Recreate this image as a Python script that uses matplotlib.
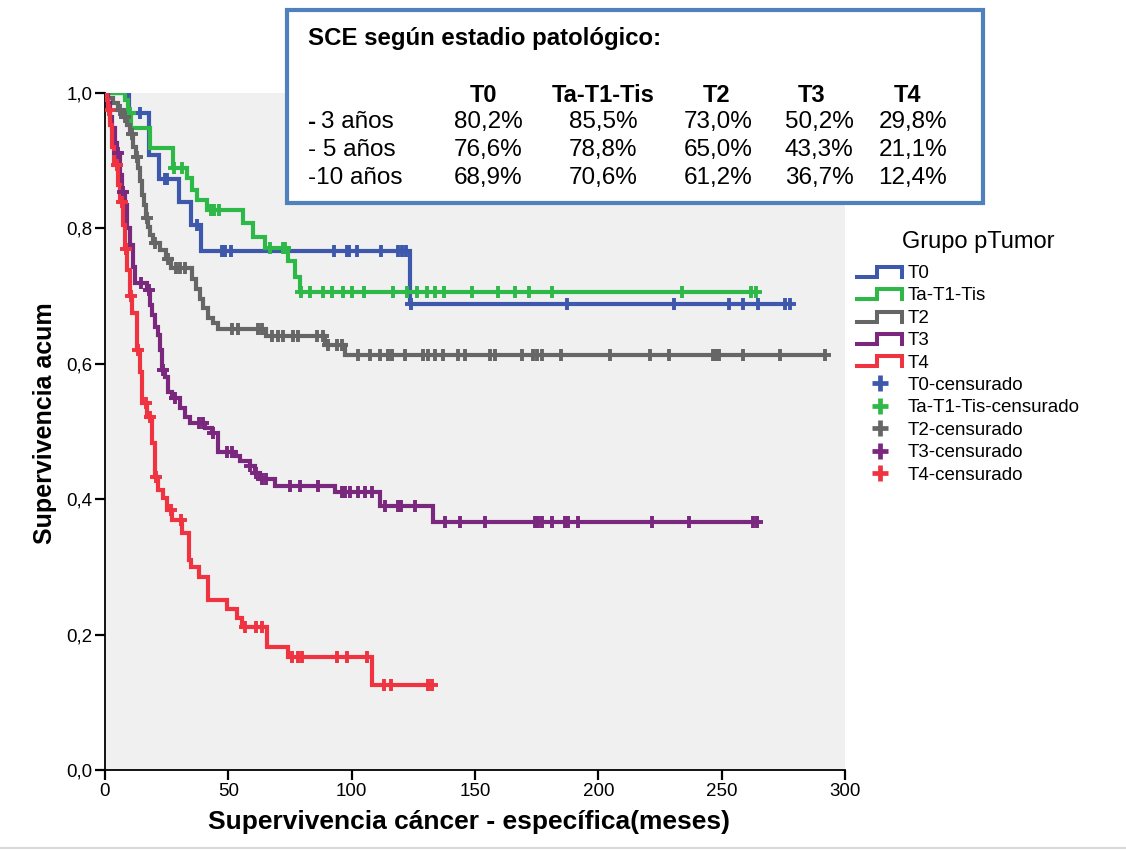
import numpy as np
import matplotlib
matplotlib.use("Agg")
import matplotlib.pyplot as plt
from matplotlib.lines import Line2D
from matplotlib.patches import Rectangle
from matplotlib.legend_handler import HandlerBase

plt.rcParams['font.family'] = ['Liberation Sans', 'DejaVu Sans']

# ---------------- data ----------------
groups = ["T0", "Ta-T1-Tis", "T2", "T3", "T4"]
colors = ["#3e58ac", "#2eb848", "#666666", "#79287d", "#ef3340"]

T0_times = [9.7, 17.8, 21.9, 30.0, 34.9, 38.9, 123.5]
T0_surv = [0.970, 0.908, 0.873, 0.839, 0.805, 0.767, 0.689]
T0_cens = [14.2, 24.3, 25.1, 37.3, 47.4, 48.6, 51.1, 92.8, 98.1, 98.9, 102.2, 111.9,
           118.8, 120.4, 122.0, 124.1, 187.4, 230.7, 253.0, 258.6, 264.7, 275.7, 277.5]

G_times = [8.1, 9.5, 10.5, 18.2, 27.6, 33.2, 35.3, 37.3, 41.4, 56.0, 60.0, 64.9, 74.2, 77.0, 79.0]
G_surv = [0.990, 0.970, 0.948, 0.919, 0.889, 0.875, 0.857, 0.842, 0.827, 0.808, 0.787,
          0.771, 0.752, 0.728, 0.706]
G_cens = [10.1, 28.0, 31.2, 43.0, 44.2, 46.2, 66.9, 72.2, 73.0, 79.5, 83.1, 88.4, 92.0,
          96.5, 100.1, 105.0, 116.8, 122.4, 126.5, 130.5, 133.8, 137.4, 148.8, 159.3,
          166.2, 171.9, 181.2, 233.9, 261.9, 263.9]

S_times = [0.8, 3.2, 5.3, 7.3, 8.9, 10.1, 11.4, 12.6, 13.4, 14.2, 15.0, 15.8, 16.6, 17.4,
           18.2, 19.5, 22.3, 24.7, 26.8, 35.3, 36.9, 38.5, 39.7, 41.8, 43.8, 45.8, 65.3,
           89.2, 97.3]
S_surv = [0.993, 0.985, 0.975, 0.964, 0.953, 0.940, 0.920, 0.905, 0.889, 0.870, 0.850,
          0.835, 0.815, 0.802, 0.790, 0.778, 0.768, 0.755, 0.741, 0.725, 0.710, 0.695,
          0.682, 0.668, 0.660, 0.652, 0.641, 0.628, 0.613]
S_cens = [6.1, 8.1, 10.9, 13.0, 17.0, 20.3, 25.5, 28.8, 30.4, 32.4, 51.5, 53.9, 62.0, 63.6,
          67.7, 70.1, 72.2, 76.2, 78.2, 85.9, 88.4, 90.4, 94.1, 96.1, 102.6, 107.4, 111.5,
          114.7, 116.4, 121.6, 128.9, 130.9, 133.8, 137.0, 143.1, 146.0, 156.1, 158.1,
          169.0, 173.5, 175.1, 177.2, 184.9, 204.7, 220.9, 228.6, 246.5, 247.7, 248.9,
          258.6, 273.6, 292.0]

P_times = [1.2, 2.0, 2.8, 4.1, 4.9, 6.1, 6.9, 8.1, 8.9, 10.1, 11.4, 12.2, 17.0, 18.2, 19.1,
           20.3, 21.5, 22.3, 23.1, 24.3, 25.5, 27.2, 30.4, 32.4, 34.5, 40.5, 43.4, 45.8,
           52.7, 54.7, 58.8, 60.8, 62.8, 68.9, 93.2, 111.5, 133.0]
P_surv = [0.985, 0.965, 0.948, 0.926, 0.911, 0.879, 0.854, 0.835, 0.800, 0.775, 0.743,
          0.720, 0.709, 0.687, 0.672, 0.654, 0.643, 0.620, 0.591, 0.580, 0.558, 0.550,
          0.535, 0.522, 0.513, 0.505, 0.498, 0.470, 0.464, 0.456, 0.449, 0.438, 0.430,
          0.420, 0.410, 0.390, 0.367]
P_cens = [5.3, 7.3, 14.6, 17.8, 23.5, 28.4, 38.1, 39.7, 43.8, 49.5, 51.5, 58.8, 61.2, 63.6,
          65.3, 75.0, 79.0, 86.4, 96.1, 97.3, 99.3, 102.6, 105.4, 108.2, 113.5, 118.8,
          120.0, 125.7, 137.8, 143.9, 154.1, 174.3, 175.5, 177.2, 181.2, 186.5, 187.7,
          191.8, 221.8, 236.8, 262.7, 264.3]

R_times = [0.8, 1.2, 2.0, 2.8, 3.6, 5.3, 6.1, 7.3, 8.1, 8.9, 10.1, 10.9, 13.0, 14.2, 15.0,
           17.0, 19.1, 20.3, 21.5, 23.5, 25.1, 27.2, 31.2, 34.1, 34.9, 38.1, 41.8, 49.5,
           53.5, 55.5, 65.7, 74.2, 108.2]
R_surv = [0.990, 0.975, 0.953, 0.920, 0.894, 0.864, 0.839, 0.805, 0.770, 0.739, 0.700,
          0.675, 0.620, 0.588, 0.542, 0.522, 0.483, 0.433, 0.413, 0.402, 0.384, 0.369,
          0.350, 0.310, 0.300, 0.285, 0.251, 0.238, 0.225, 0.211, 0.182, 0.167, 0.125]
R_cens = [1.6, 4.9, 6.9, 8.5, 10.5, 13.4, 16.6, 18.2, 20.7, 26.8, 30.8, 56.8, 61.2, 63.6,
          75.8, 78.2, 79.9, 94.1, 98.1, 106.2, 113.1, 115.9, 130.9, 132.6]

table_title = "SCE según estadio patológico:"
row_labels = ["3 años", "5 años", "10 años"]
table_values = [[80.2, 85.5, 73.0, 50.2, 29.8],
                [76.6, 78.8, 65.0, 43.3, 21.1],
                [68.9, 70.6, 61.2, 36.7, 12.4]]

x_ticks = [0, 50, 100, 150, 200, 250, 300]
y_ticks = [0.0, 0.2, 0.4, 0.6, 0.8, 1.0]

series = [(T0_times, T0_surv, T0_cens), (G_times, G_surv, G_cens),
          (S_times, S_surv, S_cens), (P_times, P_surv, P_cens),
          (R_times, R_surv, R_cens)]

# ---------------- figure ----------------
W, H = 1126, 850
fig = plt.figure(figsize=(W / 100, H / 100), dpi=100)
fig.patch.set_facecolor("white")


def fx(x):
    return x / W


def fy(y):
    return 1 - y / H


ax = fig.add_axes([fx(105), fy(770), fx(845) - fx(105), fy(93) - fy(770)])
ax.set_facecolor("#f0f0f0")
for s in ["top", "right"]:
    ax.spines[s].set_visible(False)
for s in ["left", "bottom"]:
    ax.spines[s].set_linewidth(1.3)
    ax.spines[s].set_color("black")

for (t, sv, cens), col in zip(series, colors):
    end = max(cens)
    xs = [0.0] + list(t) + [end]
    ys = [1.0] + list(sv) + [sv[-1]]
    ax.step(xs, ys, where="post", color=col, lw=3.0, solid_joinstyle="miter", zorder=3)
    tarr = np.array(t)
    sarr = np.array([1.0] + list(sv))
    idx = np.searchsorted(tarr, np.array(cens), side="right")
    ax.plot(cens, sarr[idx], ls="none", marker="+", ms=8.5, mew=2.8, color=col, zorder=4)

ax.set_xlim(0, 300)
ax.set_ylim(0, 1)
ax.set_xticks(x_ticks)
ax.set_xticklabels([str(v) for v in x_ticks])
ax.set_yticks(y_ticks)
ax.set_yticklabels([f"{v:.1f}".replace(".", ",") for v in y_ticks])
ax.tick_params(axis="both", direction="out", length=7, width=1.6, labelsize=13.5,
               color="black", pad=2)

ax.set_xlabel("Supervivencia cáncer - específica(meses)", fontsize=19, fontweight="bold",
              va="center")
ax.xaxis.set_label_coords((469 - 105) / 740, (770 - 822) / 677)
ax.set_ylabel("Supervivencia acum", fontsize=18, fontweight="bold", va="center")
ax.yaxis.set_label_coords((45 - 105) / 740, (770 - 423) / 677)


# ---------------- legend ----------------
class StepHandler(HandlerBase):
    def create_artists(self, legend, orig_handle, xdescent, ydescent, width, height,
                       fontsize, trans):
        x0 = -xdescent
        y0 = -ydescent
        xm = x0 + width * 0.45
        x1 = x0 + width
        lo = y0 + height * 0.1
        hi = y0 + height * 0.85
        ln = Line2D([x0, xm, xm, x1, x1], [lo, lo, hi, hi, lo],
                    color=orig_handle.get_color(), lw=2.9, solid_joinstyle="miter")
        ln.set_transform(trans)
        return [ln]


step_handles = [Line2D([], [], color=c) for c in colors]
cens_handles = [Line2D([], [], ls="none", marker="+", ms=12, mew=3.4, color=c) for c in colors]
handles = step_handles + cens_handles
labels = groups + [g + "-censurado" for g in groups]
hmap = {h: StepHandler() for h in step_handles}
leg = fig.legend(handles, labels, handler_map=hmap, loc="upper left",
                 bbox_to_anchor=(fx(857), fy(265)), bbox_transform=fig.transFigure,
                 frameon=False, fontsize=13.5,
                 handlelength=2.4, handletextpad=0.28, labelspacing=0.28, borderpad=0,
                 borderaxespad=0, numpoints=1)
fig.text(fx(978), fy(242), "Grupo pTumor", fontsize=17, ha="center", va="center")

# ---------------- table box ----------------
box = Rectangle((fx(287), fy(203)), fx(983) - fx(287), fy(10) - fy(203),
                transform=fig.transFigure, facecolor="white", edgecolor="#4f81bd",
                lw=3, zorder=10)
fig.add_artist(box)

fig.text(fx(308), fy(39), table_title, fontsize=17.3, fontweight="bold", ha="left",
         va="center", zorder=11)
head_x = [483, 603, 717, 812, 907]
val_x = [488, 603, 718, 819, 913]
for g, hx in zip(groups, head_x):
    fig.text(fx(hx), fy(95), g, fontsize=17, fontweight="bold", ha="center", va="center",
             zorder=11)
row_y = [122, 150, 178]
for i, (lab, ry) in enumerate(zip(row_labels, row_y)):
    if i == 0:
        fig.text(fx(308), fy(ry), "-", fontsize=17.5, fontweight="bold", ha="left",
                 va="center", zorder=11)
        fig.text(fx(321), fy(ry), lab, fontsize=17.5, ha="left", va="center", zorder=11)
    elif i == 1:
        fig.text(fx(308), fy(ry), "- " + lab, fontsize=17.5, ha="left", va="center",
                 zorder=11)
    else:
        fig.text(fx(308), fy(ry), "-" + lab, fontsize=17.5, ha="left", va="center",
                 zorder=11)
    for v, vx in zip(table_values[i], val_x):
        fig.text(fx(vx), fy(ry), f"{v:.1f}%".replace(".", ","), fontsize=17.5,
                 ha="center", va="center", zorder=11)

# bottom light separator line
fig.add_artist(Line2D([0, 1], [fy(848), fy(848)], transform=fig.transFigure,
                      color="#d9d9d9", lw=1.5))

fig.savefig("out.png", dpi=100)
